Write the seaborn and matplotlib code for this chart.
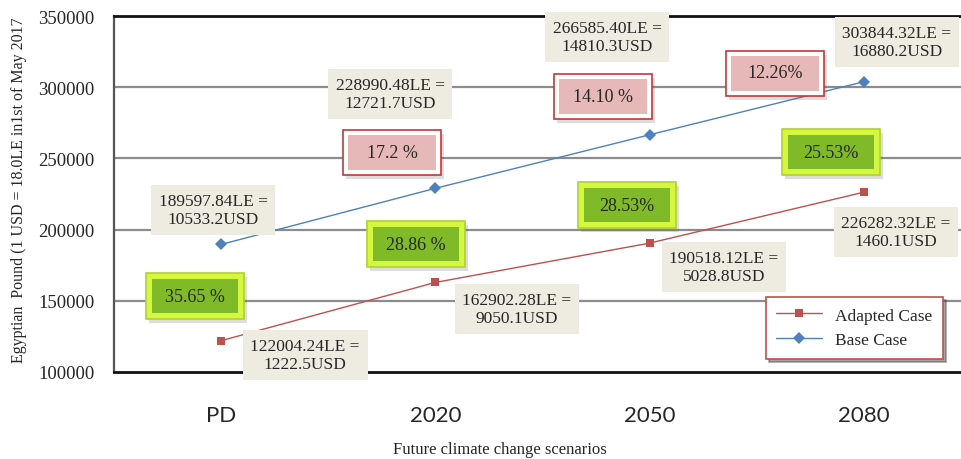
import matplotlib
matplotlib.use("Agg")
import matplotlib.pyplot as plt
import matplotlib.patches as mpatches
import matplotlib.transforms as mtransforms
import matplotlib.patheffects as pe
import seaborn as sns
import pandas as pd

# ---- data ----
scenarios = ["PD", "2020", "2050", "2080"]
adapted_le = [122004.24, 162902.28, 190518.12, 226282.32]
base_le = [189597.84, 228990.48, 266585.40, 303844.32]
adapted_usd = ["1222.5", "9050.1", "5028.8", "1460.1"]
base_usd = ["10533.2", "12721.7", "14810.3", "16880.2"]
saving_green = ["35.65 %", "28.86 %", "28.53%", "25.53%"]
growth_red = ["17.2 %", "14.10 %", "12.26%"]

y_ticks = [100000, 150000, 200000, 250000, 300000, 350000]

sns.set_theme(style="white")
plt.rcParams["font.family"] = ["Liberation Serif", "DejaVu Serif"]

fig = plt.figure(figsize=(9.61, 4.60), dpi=100)
ax = fig.add_axes([114 / 961, 1 - 373 / 460, 857 / 961, 356 / 460])

df = pd.DataFrame({
    "scenario": scenarios * 2,
    "cost": adapted_le + base_le,
    "case": ["Adapted Case"] * 4 + ["Base Case"] * 4,
})
palette = {"Adapted Case": "#C0504D", "Base Case": "#4F81BD"}
sns.lineplot(data=df, x="scenario", y="cost", hue="case", style="case",
             hue_order=["Adapted Case", "Base Case"],
             markers={"Adapted Case": "s", "Base Case": "D"}, dashes=False,
             palette=palette, linewidth=1.0, markersize=6,
             markeredgewidth=0, ax=ax, zorder=3, sort=False)

ax.set_xlim(-0.5, 3.5)
ax.set_ylim(100000, 350000)
ax.set_yticks(y_ticks)
ax.set_yticklabels([str(v) for v in y_ticks], fontsize=13.5)
ax.set_xticks(range(len(scenarios)))
ax.set_xticklabels(scenarios, fontsize=16, family=["Lato", "DejaVu Sans"])
ax.tick_params(axis="both", length=0)
ax.tick_params(axis="y", pad=14)
ax.tick_params(axis="x", pad=24)
ax.set_xlabel("")
ax.set_ylabel("")

for v in y_ticks[1:-1]:
    ax.axhline(v, color="#8C8C8C", lw=1.6, zorder=1)
for s in ["top", "bottom"]:
    ax.spines[s].set_color("#111111")
    ax.spines[s].set_linewidth(2.0)
ax.spines["left"].set_color("#555555")
ax.spines["left"].set_linewidth(1.6)
ax.spines["right"].set_visible(False)

fig.text(500 / 961, 1 - 450 / 460, "Future climate change scenarios",
         ha="center", va="center", fontsize=12)
fig.text(19 / 961, 1 - 190 / 460, "Egyptian  Pound (1 USD = 18.0LE in1st of May 2017",
         ha="center", va="center", rotation=90, fontsize=11.5)


def px_to_data(px, py):
    inv = ax.transData.inverted()
    return inv.transform(fig.transFigure.transform((px / 961, 1 - py / 460)))


def value_label(px, py, le, usd):
    x, y = px_to_data(px, py)
    ax.text(x, y, f"{le:.2f}LE =\n{usd}USD", ha="center", va="center",
            fontsize=12.5, linespacing=1.15, zorder=5,
            bbox=dict(boxstyle="square,pad=0.45", fc="#EEECE1", ec="none"))


def framed_box(px, py, text, w, h, outer_fc, outer_ec, inner_fc, inset):
    x, y = px_to_data(px, py)
    tr = fig.dpi_scale_trans + mtransforms.ScaledTranslation(x, y, ax.transData)
    outer = mpatches.Rectangle((-w / 200, -h / 200), w / 100, h / 100,
                               transform=tr, fc=outer_fc, ec=outer_ec, lw=1.2,
                               zorder=6, clip_on=False)
    outer.set_path_effects([pe.SimplePatchShadow(offset=(2, -3), alpha=0.22,
                                                 shadow_rgbFace="#666666"),
                            pe.Normal()])
    ax.add_patch(outer)
    iw, ih = w - 2 * inset, h - 2 * inset
    inner = mpatches.Rectangle((-iw / 200, -ih / 200), iw / 100, ih / 100,
                               transform=tr, fc=inner_fc, ec="none",
                               zorder=7, clip_on=False)
    ax.add_patch(inner)
    ax.text(x, y, text, ha="center", va="center", fontsize=13, zorder=8)


# value labels (LE = USD)
base_pos = [(213, 211), (390, 95), (607, 38), (897, 43)]
adapted_pos = [(305, 356), (517, 310), (724, 268), (896, 233)]
for (px, py), le, usd in zip(base_pos, base_le, base_usd):
    value_label(px, py, le, usd)
for (px, py), le, usd in zip(adapted_pos, adapted_le, adapted_usd):
    value_label(px, py, le, usd)

# percentage boxes
green_pos = [(195, 297), (416, 245), (627, 206), (831, 153)]
for (px, py), t in zip(green_pos, saving_green):
    framed_box(px, py, t, 98, 46, "#D6F740", "#B0D030", "#80BA28", 6)

red_pos = [(392, 153), (603, 97), (775, 74)]
for (px, py), t in zip(red_pos, growth_red):
    framed_box(px, py, t, 98, 45, "white", "#C0393B", "#E6B9B8", 5)

# legend
handles, labels = ax.get_legend_handles_labels()
leg = ax.legend(handles, labels, loc="upper left",
                bbox_to_anchor=(766 / 961, 1 - 298 / 460),
                bbox_transform=fig.transFigure, borderaxespad=0,
                fontsize=12.5, frameon=True, fancybox=False, shadow=True,
                edgecolor="#C0504D", handlelength=2.6, borderpad=0.6,
                labelspacing=0.5)
leg.get_frame().set_linewidth(1.2)
leg.set_zorder(9)

fig.savefig("out.png", dpi=100)
